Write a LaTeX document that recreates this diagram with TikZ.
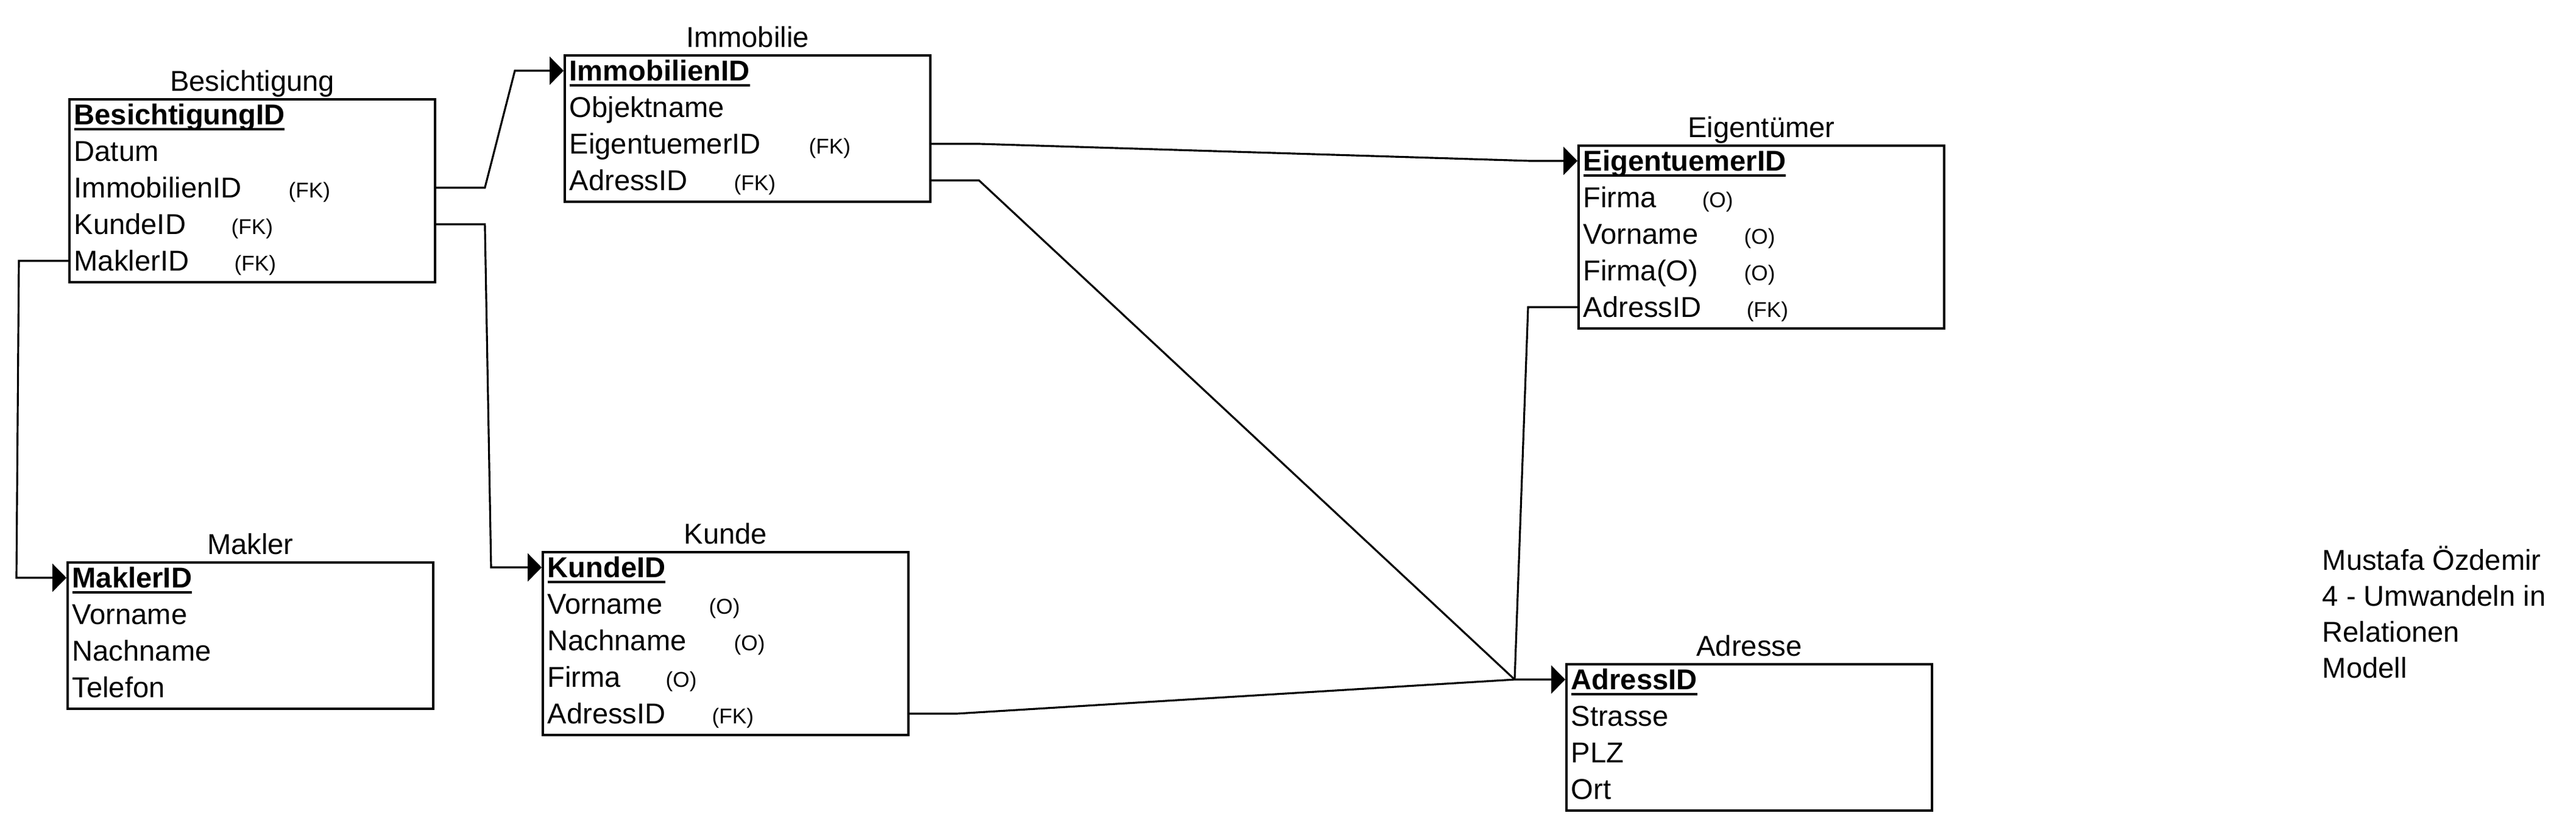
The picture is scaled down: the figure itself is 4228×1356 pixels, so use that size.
\documentclass[tikz,border=0pt]{standalone}
\usepackage{fontspec}
\setmainfont{Liberation Sans}
\usepackage{tikz}
\usetikzlibrary{arrows.meta,calc}

\newcommand{\pkey}[1]{\setbox0\hbox{\bfseries #1}\rlap{\rule[-2.6pt]{\wd0}{1.1pt}}\box0}

\begin{document}
\begin{tikzpicture}[x=0.01cm,y=-0.01cm,
		tbl/.style={draw,line width=1pt,minimum width=6cm,inner sep=0pt,anchor=north west},
		ttl/.style={font=\fontsize{13.4pt}{16.7pt}\selectfont,anchor=base,inner sep=0pt},
		fld/.style={font=\fontsize{13.4pt}{16.7pt}\selectfont,anchor=west,inner sep=0pt,text height=9.6pt,text depth=0pt},
		note/.style={font=\fontsize{10pt}{12pt}\selectfont,anchor=base west,inner sep=0pt},
		fk/.style={-{Triangle[length=6.5pt,width=13pt]},line width=0.9pt}]
			\useasboundingbox (0,0) rectangle (4228,1356);
			% Besichtigung
			\node[tbl,minimum height=3cm] (bes) at (112,161) {};
			\node[ttl] (bes-t) at ($(bes.north)+(0,-12)$) {Besichtigung};
			\node[fld] (bes-id) at ($(bes.north west)+(9,27)$) {\pkey{BesichtigungID}};
			\foreach \f/\n [count=\i] in {dat/Datum,imm/ImmobilienID,kun/KundeID,mak/MaklerID}
				\node[fld] (bes-\f) at ($(bes.north west)+(9,27+60*\i)$) {\n};
			\node[note] (bes-imm-fk) at ($(bes-imm.base west)+(352,0)$) {(FK)};
			\node[note] (bes-kun-fk) at ($(bes-kun.base west)+(258,0)$) {(FK)};
			\node[note] (bes-mak-fk) at ($(bes-mak.base west)+(263,0)$) {(FK)};
			% Immobilie
			\node[tbl,minimum height=2.4cm] (imm) at (925,89) {};
			\node[ttl] (imm-t) at ($(imm.north)+(0,-12)$) {Immobilie};
			\node[fld] (imm-id) at ($(imm.north west)+(9,27)$) {\pkey{ImmobilienID}};
			\foreach \f/\n [count=\i] in {obj/Objektname,eig/EigentuemerID,adr/AdressID}
				\node[fld] (imm-\f) at ($(imm.north west)+(9,27+60*\i)$) {\n};
			\node[note] (imm-eig-fk) at ($(imm-eig.base west)+(393,0)$) {(FK)};
			\node[note] (imm-adr-fk) at ($(imm-adr.base west)+(270,0)$) {(FK)};
			% Eigentuemer
			\node[tbl,minimum height=3cm] (eig) at (2589,237) {};
			\node[ttl] (eig-t) at ($(eig.north)+(0,-12)$) {Eigentümer};
			\node[fld] (eig-id) at ($(eig.north west)+(9,27)$) {\pkey{EigentuemerID}};
			\foreach \f/\n [count=\i] in {fir/Firma,vor/Vorname,fio/Firma(O),adr/AdressID}
				\node[fld] (eig-\f) at ($(eig.north west)+(9,27+60*\i)$) {\n};
			\node[note] (eig-fir-o) at ($(eig-fir.base west)+(195,0)$) {(O)};
			\node[note] (eig-vor-o) at ($(eig-vor.base west)+(264,0)$) {(O)};
			\node[note] (eig-fio-o) at ($(eig-fio.base west)+(264,0)$) {(O)};
			\node[note] (eig-adr-fk) at ($(eig-adr.base west)+(268,0)$) {(FK)};
			% Makler
			\node[tbl,minimum height=2.4cm] (mak) at (109,921) {};
			\node[ttl] (mak-t) at ($(mak.north)+(0,-12)$) {Makler};
			\node[fld] (mak-id) at ($(mak.north west)+(9,27)$) {\pkey{MaklerID}};
			\foreach \f/\n [count=\i] in {vor/Vorname,nac/Nachname,tel/Telefon}
				\node[fld] (mak-\f) at ($(mak.north west)+(9,27+60*\i)$) {\n};
			% Kunde
			\node[tbl,minimum height=3cm] (kun) at (889,904) {};
			\node[ttl] (kun-t) at ($(kun.north)+(0,-12)$) {Kunde};
			\node[fld] (kun-id) at ($(kun.north west)+(9,27)$) {\pkey{KundeID}};
			\foreach \f/\n [count=\i] in {vor/Vorname,nac/Nachname,fir/Firma,adr/AdressID}
				\node[fld] (kun-\f) at ($(kun.north west)+(9,27+60*\i)$) {\n};
			\node[note] (kun-vor-o) at ($(kun-vor.base west)+(265,0)$) {(O)};
			\node[note] (kun-nac-o) at ($(kun-nac.base west)+(306,0)$) {(O)};
			\node[note] (kun-fir-o) at ($(kun-fir.base west)+(194,0)$) {(O)};
			\node[note] (kun-adr-fk) at ($(kun-adr.base west)+(270,0)$) {(FK)};
			% Adresse
			\node[tbl,minimum height=2.4cm] (adr) at (2569,1088) {};
			\node[ttl] (adr-t) at ($(adr.north)+(0,-12)$) {Adresse};
			\node[fld] (adr-id) at ($(adr.north west)+(9,27)$) {\pkey{AdressID}};
			\foreach \f/\n [count=\i] in {str/Strasse,plz/PLZ,ort/Ort}
				\node[fld] (adr-\f) at ($(adr.north west)+(9,27+60*\i)$) {\n};
			\node[ttl,anchor=base west,align=left] (sig) at (3811,1112) {Mustafa Özdemir\\4 - Umwandeln in\\Relationen\\Modell};
			% Beziehungen
			\coordinate (adr-in) at ($(adr.west |- adr-id)+(-83,0)$);
			\draw[fk] (bes.east |- bes-imm) -- ++(80,0) -- ($(imm.west |- imm-id)+(-80,0)$) -- (imm.west |- imm-id);
			\draw[fk] (bes.east |- bes-kun) -- ++(80,0) -- ($(kun.west |- kun-id)+(-83,0)$) -- (kun.west |- kun-id);
			\draw[fk] (bes.west |- bes-mak) -- ++(-81,0) -- ($(mak.west |- mak-id)+(-82,0)$) -- (mak.west |- mak-id);
			\draw[fk] (imm.east |- imm-eig) -- ++(78,0) -- ($(eig.west |- eig-id)+(-77,0)$) -- (eig.west |- eig-id);
			\draw[line width=0.9pt] (imm.east |- imm-adr) -- ++(78,0) -- (adr-in);
			\draw[line width=0.9pt] (eig.west |- eig-adr) -- ++(-81,0) -- (adr-in);
			\draw[fk] (kun.east |- kun-adr) -- ++(77,0) -- (adr-in) -- (adr.west |- adr-id);
\end{tikzpicture}
\end{document}
